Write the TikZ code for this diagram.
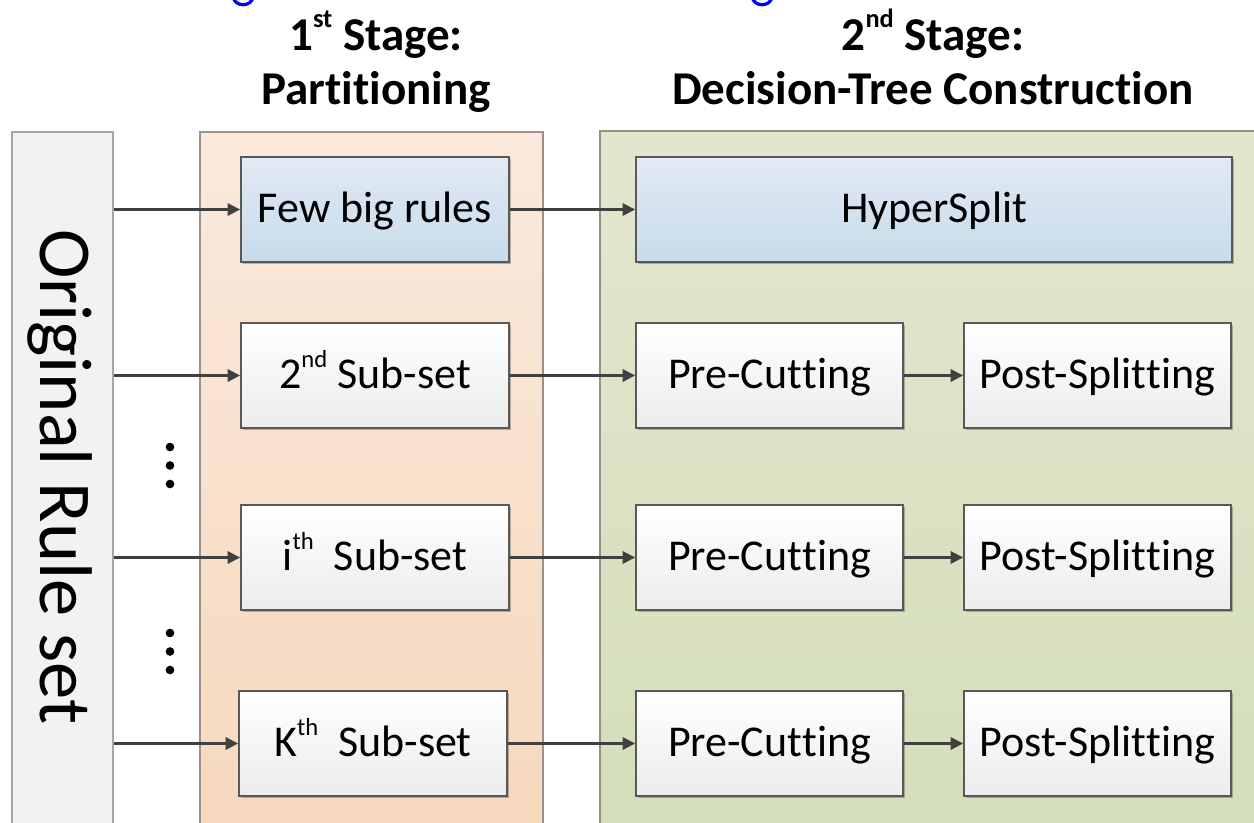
\documentclass[tikz,border=0pt]{standalone}
\usepackage{fontspec}
\setmainfont{Carlito}[Ligatures={NoCommon,NoContextual}, RawFeature={-calt;-dlig}]
\usetikzlibrary{arrows.meta,shadows,fit}

\definecolor{colfill}{HTML}{F2F2F2}
\definecolor{colline}{HTML}{A6A6A6}
\definecolor{peachtop}{HTML}{FAE9DC}
\definecolor{peachbot}{HTML}{F6D8BD}
\definecolor{peachline}{HTML}{9A918A}
\definecolor{sagetop}{HTML}{E2E6CE}
\definecolor{sagebot}{HTML}{D4DEBA}
\definecolor{sageline}{HTML}{8F9385}
\definecolor{bluetop}{HTML}{E0EAF4}
\definecolor{bluebot}{HTML}{C8DBEA}
\definecolor{greytop}{HTML}{FFFFFF}
\definecolor{greybot}{HTML}{ECECEC}
\definecolor{boxline}{HTML}{595959}
\definecolor{arrowcol}{HTML}{404040}
\definecolor{titleblue}{HTML}{0000FF}

% small raised ordinal suffix
\newcommand{\ordsuf}[1]{\raisebox{0.47em}{\scalebox{0.56}{#1}}}
% two separate letters t, never joined into one glyph
\newcommand{\tee}{t\kern0pt t}

\tikzset{
  panel/.style={inner sep=0pt, line width=1.1pt},
  stagebox/.style={rectangle, draw=boxline, line width=1.1pt,
    minimum height=78.75pt, inner sep=0pt,
    text height=26pt, text depth=6.5pt,
    font=\fontsize{33}{36}\selectfont,
    drop shadow={shadow xshift=1.2pt, shadow yshift=-1.2pt, opacity=0.25, fill=black}},
  plainbox/.style={stagebox, top color=greytop, bottom color=greybot},
  bluebox/.style={stagebox, top color=bluetop, bottom color=bluebot},
  narrow/.style={minimum width=201pt},
  half/.style={minimum width=200.25pt},
  wide/.style={minimum width=447pt},
  flow/.style={draw=arrowcol, line width=2.5pt,
    -{Triangle[length=9.5pt,width=9pt]}},
  heading/.style={font=\bfseries\fontsize{35.3}{40}\selectfont, anchor=base},
  dot/.style={circle, fill=black, inner sep=0pt, minimum size=6.5pt}
}

\begin{document}
\begin{tikzpicture}[x=0.75pt,y=-0.75pt]
\useasboundingbox (0,0) rectangle (1254,822);
\clip (0,0) rectangle (1254,822);

% descender tails of the title line above the stage headings
\draw[titleblue, line width=2.4pt] (233.5,-3) arc[start angle=180, end angle=360, x radius=7.2pt, y radius=5.8pt];
\draw[titleblue, line width=2.4pt] (752.5,-3) arc[start angle=180, end angle=360, x radius=7.2pt, y radius=5.8pt];

% stage headings
\node[heading] (h1a) at (376,50) {1\ordsuf{st} Stage:};
\node[heading] (h1b) at (376,104) {Partitioning};
\node[heading] (h2a) at (933,50) {2\ordsuf{nd} Stage:};
\node[heading] (h2b) at (933,104) {Decision-Tree Construction};

% background columns
\node[panel, fit={(12,132) (113,840)}, fill=colfill, draw=colline] (orig) {};
\node[panel, fit={(200,132) (543,840)}, top color=peachtop, bottom color=peachbot, draw=peachline] (part) {};
\node[panel, fit={(600,131) (1270,840)}, top color=sagetop, bottom color=sagebot, draw=sageline] (tree) {};

\node[rotate=-90, font=\fontsize{56}{60}\selectfont] (origlabel) at (60,477) {Original Rule set};

% first stage boxes
\node[bluebox, narrow] (few) at (375,209.5) {Few big rules};
\node[plainbox, narrow] (sub2) at (375,375.5) {2\ordsuf{nd} Sub-set};
\node[plainbox, narrow] (subi) at (375,557.5) {i\ordsuf{th}\ \ Sub-set};
\node[plainbox, narrow] (subk) at (373,743.5) {K\ordsuf{th}\ \ Sub-set};

% second stage boxes
\node[bluebox, wide] (hyper) at (934,209.5) {HyperSplit};
\node[plainbox, half] (pre2) at (769.5,375.5) {Pre-Cu\tee ing};
\node[plainbox, half] (post2) at (1097.5,375.5) {Post-Spli\tee ing};
\node[plainbox, half] (prei) at (769.5,557.5) {Pre-Cu\tee ing};
\node[plainbox, half] (posti) at (1097.5,557.5) {Post-Spli\tee ing};
\node[plainbox, half] (prek) at (769.5,743.5) {Pre-Cu\tee ing};
\node[plainbox, half] (postk) at (1097.5,743.5) {Post-Spli\tee ing};

% vertical ellipses between the rows
\foreach \yy [count=\k] in {447,465.5,484,633,651.5,670}
  \node[dot] (ell\k) at (170,\yy) {};

% connectors
\draw[flow] (orig.east |- few.west) -- (few.west);
\draw[flow] (orig.east |- sub2.west) -- (sub2.west);
\draw[flow] (orig.east |- subi.west) -- (subi.west);
\draw[flow] (orig.east |- subk.west) -- (subk.west);

\draw[flow] (few.east) -- (hyper.west);
\draw[flow] (sub2.east) -- (pre2.west);
\draw[flow] (subi.east) -- (prei.west);
\draw[flow] (subk.east) -- (prek.west);

\draw[flow] (pre2.east) -- (post2.west);
\draw[flow] (prei.east) -- (posti.west);
\draw[flow] (prek.east) -- (postk.west);
\end{tikzpicture}
\end{document}
